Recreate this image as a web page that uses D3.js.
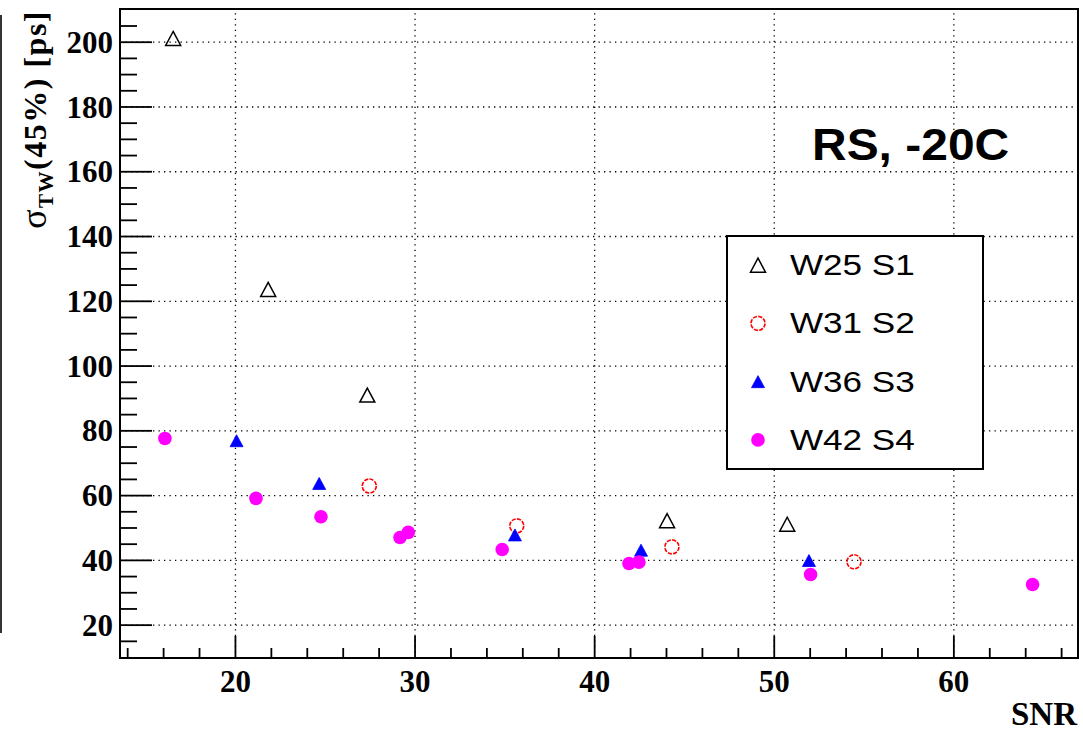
<!DOCTYPE html>
<html>
<head>
<meta charset="utf-8">
<script src="https://cdn.jsdelivr.net/npm/d3@7"></script>
<style>
  html, body { margin: 0; padding: 0; background: #fff; }
  svg { display: block; }
</style>
</head>
<body>
<svg id="chart" width="1083" height="733"></svg>
<script>
// Time-walk corrected timing resolution vs. SNR, four sensors (RS, -20C)
const w25Snr   = [16.56, 21.85, 27.37, 44.06, 50.75];
const w25Sigma = [201.0, 123.5, 90.9, 52.1, 51.0];

const w31Snr   = [27.48, 35.69, 44.33, 54.47];
const w31Sigma = [62.8, 50.5, 44.0, 39.4];

const w36Snr   = [20.09, 24.69, 35.59, 42.61, 51.96];
const w36Sigma = [76.8, 63.6, 47.7, 43.0, 39.8];

const w42Snr   = [16.10, 21.17, 24.79, 29.19, 29.65, 34.88, 41.94, 42.49, 52.05, 64.41];
const w42Sigma = [77.5, 59.0, 53.3, 46.9, 48.5, 43.2, 38.9, 39.3, 35.5, 32.4];

const seriesNames = ["W25 S1", "W31 S2", "W36 S3", "W42 S4"];

const snrMajor   = [20, 30, 40, 50, 60];
const snrMinor   = [14, 16, 18, 22, 24, 26, 28, 32, 34, 36, 38, 42, 44, 46, 48, 52, 54, 56, 58, 62, 64, 66];
const sigmaMajor = [20, 40, 60, 80, 100, 120, 140, 160, 180, 200];
const sigmaMinor = [15, 25, 30, 35, 45, 50, 55, 65, 70, 75, 85, 90, 95, 105, 110, 115, 125, 130, 135,
                    145, 150, 155, 165, 170, 175, 185, 190, 195, 205];

const snrRange   = [13.6, 66.94];
const sigmaRange = [9.7, 210.1];

// ---- layout ----
const svg = d3.select("#chart");
const frame = { left: 120, top: 9, right: 1078, bottom: 658 };
const plotW = frame.right - frame.left;
const plotH = frame.bottom - frame.top;

const x = d3.scaleLinear().domain(snrRange).range([frame.left, frame.right]);
const y = d3.scaleLinear().domain(sigmaRange).range([frame.bottom, frame.top]);

const serif = "'Liberation Serif', 'Times New Roman', serif";
const sans  = "'Liberation Sans', Arial, Helvetica, sans-serif";

// stray edge line at far left
svg.append("line")
  .attr("x1", 1).attr("x2", 1).attr("y1", 15).attr("y2", 633)
  .attr("stroke", "#000").attr("stroke-width", 1.6);

// ---- grid ----
const gridX = svg.append("g")
  .attr("transform", `translate(0,${frame.bottom})`)
  .call(d3.axisBottom(x).tickValues(snrMajor).tickSize(-plotH).tickFormat(""));
const gridY = svg.append("g")
  .attr("transform", `translate(${frame.left},0)`)
  .call(d3.axisLeft(y).tickValues(sigmaMajor).tickSize(-plotW).tickFormat(""));
[gridX, gridY].forEach(g => {
  g.select(".domain").remove();
  g.selectAll("line")
    .attr("stroke", "#000")
    .attr("stroke-width", 1.3)
    .attr("stroke-dasharray", "1.3,4.2");
});

// ---- axes (ticks pointing inward) ----
function styleAxis(g) {
  g.select(".domain").remove();
  g.selectAll("line").attr("stroke", "#000").attr("stroke-width", 1.8);
}

const xMinor = svg.append("g")
  .attr("transform", `translate(0,${frame.bottom})`)
  .call(d3.axisBottom(x).tickValues(snrMinor).tickSizeInner(-10).tickSizeOuter(0).tickFormat(""));
styleAxis(xMinor);

const xMajor = svg.append("g")
  .attr("transform", `translate(0,${frame.bottom})`)
  .call(d3.axisBottom(x).tickValues(snrMajor).tickSizeInner(-22).tickSizeOuter(0).tickPadding(0)
        .tickFormat(d3.format("d")));
styleAxis(xMajor);
xMajor.selectAll("text")
  .attr("y", 34).attr("dy", null)
  .attr("fill", "#000")
  .style("font-family", serif).style("font-weight", "bold").style("font-size", "31px");

const yMinor = svg.append("g")
  .attr("transform", `translate(${frame.left},0)`)
  .call(d3.axisLeft(y).tickValues(sigmaMinor).tickSizeInner(-17).tickSizeOuter(0).tickFormat(""));
styleAxis(yMinor);

const yMajor = svg.append("g")
  .attr("transform", `translate(${frame.left},0)`)
  .call(d3.axisLeft(y).tickValues(sigmaMajor).tickSizeInner(-32).tickSizeOuter(0).tickPadding(7)
        .tickFormat(d3.format("d")));
styleAxis(yMajor);
yMajor.selectAll("text")
  .attr("x", -7).attr("dy", "0.34em")
  .attr("fill", "#000")
  .style("font-family", serif).style("font-weight", "bold").style("font-size", "31px");

// frame
svg.append("rect")
  .attr("x", frame.left).attr("y", frame.top)
  .attr("width", plotW).attr("height", plotH)
  .attr("fill", "none").attr("stroke", "#000").attr("stroke-width", 2);

// ---- axis titles ----
svg.append("text")
  .attr("x", 1077).attr("y", 725)
  .attr("text-anchor", "end")
  .style("font-family", serif).style("font-weight", "bold").style("font-size", "33px")
  .text("SNR");

const yTitle = svg.append("text")
  .attr("transform", "translate(46,10) rotate(-90)")
  .attr("text-anchor", "end")
  .style("font-family", serif).style("font-weight", "bold").style("font-size", "32px")
  .style("letter-spacing", "1.5px");
yTitle.append("tspan").style("font-weight", "normal").style("font-size", "36px").text("σ");
yTitle.append("tspan").attr("dy", 7).style("font-size", "21px").text("TW");
yTitle.append("tspan").attr("dy", -7).text("(45%) [ps]");

// ---- markers ----
const markers = {
  openTriangle: (g) => g.append("path")
      .attr("d", "M0,-7 L7.5,7 L-7.5,7 Z")
      .attr("fill", "none").attr("stroke", "#000").attr("stroke-width", 1.5),
  openCircle: (g) => g.append("circle")
      .attr("r", 7)
      .attr("fill", "none").attr("stroke", "#ff0000").attr("stroke-width", 1.6)
      .attr("stroke-dasharray", "4.2,1.3"),
  fullTriangle: (g) => g.append("path")
      .attr("d", "M0,-6 L6.5,6 L-6.5,6 Z")
      .attr("fill", "#0000ff").attr("stroke", "#0000ff").attr("stroke-width", 0.8),
  fullCircle: (g) => g.append("circle")
      .attr("r", 6.8)
      .attr("fill", "#ff00ff")
};

const series = [
  { name: seriesNames[0], snr: w25Snr, sigma: w25Sigma, marker: markers.openTriangle },
  { name: seriesNames[1], snr: w31Snr, sigma: w31Sigma, marker: markers.openCircle },
  { name: seriesNames[2], snr: w36Snr, sigma: w36Sigma, marker: markers.fullTriangle },
  { name: seriesNames[3], snr: w42Snr, sigma: w42Sigma, marker: markers.fullCircle }
];

const plot = svg.append("g");
series.forEach(s => {
  s.snr.forEach((v, i) => {
    const g = plot.append("g")
      .attr("transform", `translate(${x(v)},${y(s.sigma[i])})`);
    s.marker(g);
  });
});

// ---- legend ----
const legend = { left: 727, top: 236, right: 983, bottom: 469 };
const legendG = svg.append("g");
legendG.append("rect")
  .attr("x", legend.left).attr("y", legend.top)
  .attr("width", legend.right - legend.left).attr("height", legend.bottom - legend.top)
  .attr("fill", "#fff").attr("stroke", "#000").attr("stroke-width", 2);

const rowScale = d3.scaleBand()
  .domain(seriesNames)
  .range([legend.top, legend.bottom]);

series.forEach(s => {
  const cy = rowScale(s.name) + rowScale.bandwidth() / 2;
  const mg = legendG.append("g").attr("transform", `translate(758,${cy})`);
  s.marker(mg);
  legendG.append("text")
    .attr("transform", `translate(790,${cy + 10}) scale(1.17,1)`)
    .style("font-family", sans).style("font-size", "30px")
    .attr("fill", "#000")
    .text(s.name);
});

// ---- condition label ----
svg.append("text")
  .attr("transform", "translate(812,160) scale(1.09,1)")
  .style("font-family", sans).style("font-weight", "bold").style("font-size", "44px")
  .attr("fill", "#000")
  .text("RS, -20C");
</script>
</body>
</html>
